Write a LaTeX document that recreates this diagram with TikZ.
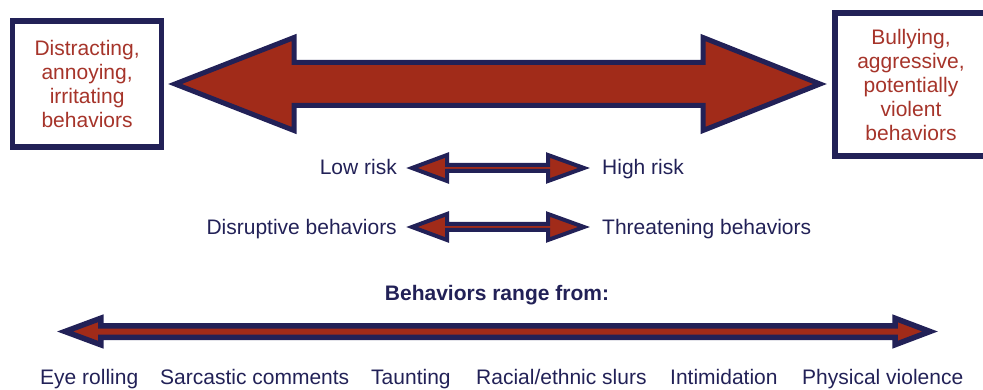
\documentclass[tikz,border=0pt]{standalone}
\usepackage{fontspec}
\setmainfont{Liberation Sans}
\definecolor{navy}{HTML}{222157}
\definecolor{rust}{HTML}{A12B19}
\definecolor{rusttext}{HTML}{A6342A}
\tikzset{
    endbox/.style = {draw = navy, line width = 5.5, fill = white, text = rusttext,
                     align = center, inner sep = 0},
    fatarrow/.style = {draw = navy, fill = rust, line join = miter},
    label/.style = {text = navy, inner sep = 0}
}

\begin{document}
\begin{tikzpicture}[x = 1pt, y = -1pt, font = \fontsize{21}{24}\selectfont]
        \clip (0, 0) rectangle (983, 390);

        \node [endbox, minimum width = 148.75, minimum height = 126] (mild) at (87.1, 84)
            {Distracting,\\annoying,\\irritating\\behaviors};
        \node [endbox, minimum width = 152, minimum height = 143] (severe) at (911, 84.5)
            {Bullying,\\aggressive,\\potentially\\violent\\behaviors};

        \draw [fatarrow, line width = 5] (175, 84) -- (294, 37.5) -- (294, 62.5) -- (703, 62.5) -- (703, 37.5)
            -- (820, 84) -- (703, 130.5) -- (703, 105.5) -- (294, 105.5) -- (294, 130.5) -- cycle;

        \draw [fatarrow, line width = 4] (412, 168) -- (447, 155) -- (447, 165) -- (548, 165) -- (548, 155)
            -- (584, 168) -- (548, 181) -- (548, 171) -- (447, 171) -- (447, 181) -- cycle;
        \node [label, anchor = base east] (lowrisk) at (397, 175) {Low risk};
        \node [label, anchor = base west] (highrisk) at (602, 175) {High risk};

        \draw [fatarrow, line width = 4] (412, 227) -- (447, 214) -- (447, 224) -- (548, 224) -- (548, 214)
            -- (584, 227) -- (548, 240) -- (548, 230) -- (447, 230) -- (447, 240) -- cycle;
        \node [label, anchor = base east] (disruptive) at (397, 235) {Disruptive behaviors};
        \node [label, anchor = base west] (threatening) at (602, 235) {Threatening behaviors};

        \node [label, anchor = base, font = \fontsize{21}{24}\selectfont\bfseries] (range) at (497, 301)
            {Behaviors range from:};

        \draw [fatarrow, line width = 5.5] (65, 331.5) -- (100.75, 318.25) -- (100.75, 325.75) -- (895, 325.75)
            -- (895, 318.25) -- (930, 331.5) -- (895, 344.75) -- (895, 337.25) -- (100.75, 337.25)
            -- (100.75, 344.75) -- cycle;

        \node [label, anchor = base west] (eyes)     at (40, 384)  {Eye rolling};
        \node [label, anchor = base west] (sarcasm)  at (160, 384) {Sarcastic comments};
        \node [label, anchor = base west] (taunt)    at (371, 384) {Taunting};
        \node [label, anchor = base west] (slurs)    at (476, 384) {Racial/ethnic slurs};
        \node [label, anchor = base west] (threat)   at (670, 384) {Intimidation};
        \node [label, anchor = base west] (violence) at (802, 384) {Physical violence};
    \end{tikzpicture}
\end{document}
